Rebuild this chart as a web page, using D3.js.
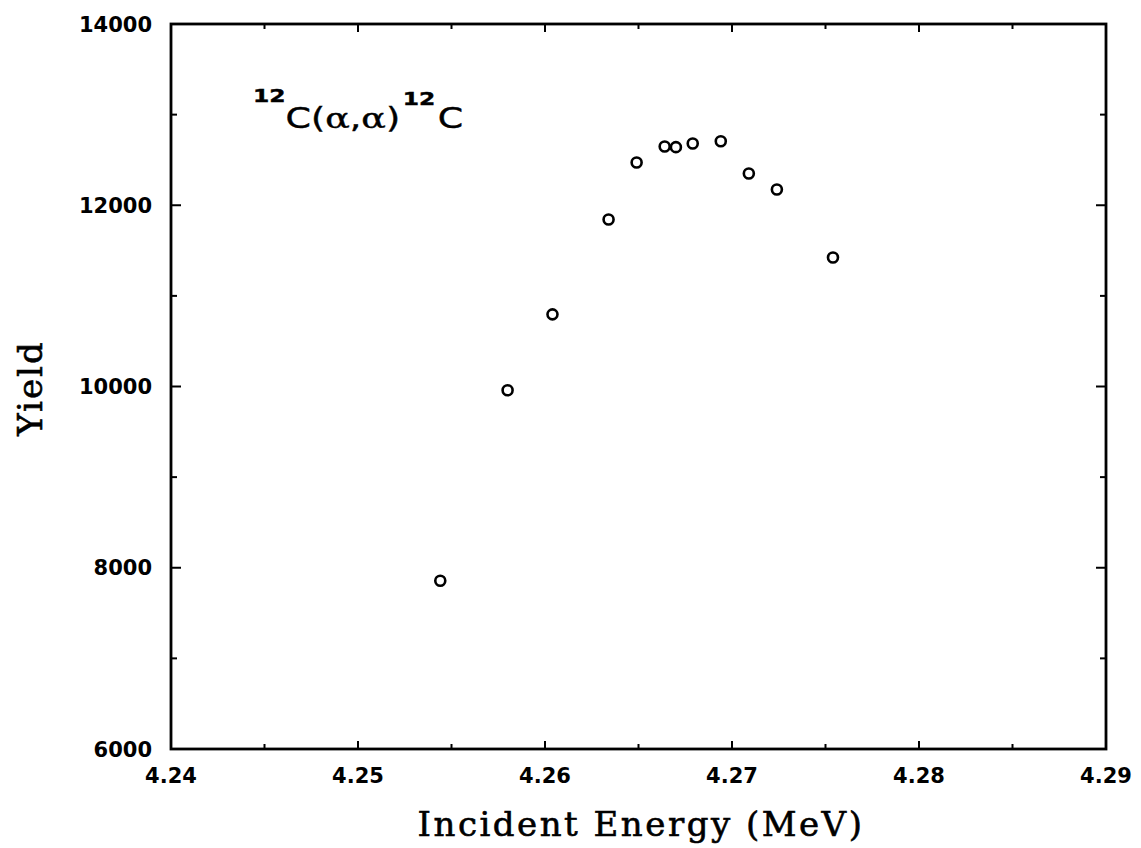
<!DOCTYPE html>
<html>
<head>
<meta charset="utf-8">
<script src="https://cdn.jsdelivr.net/npm/d3@7"></script>
<style>
  html, body { margin: 0; padding: 0; background: #fff; }
  svg { display: block; }
</style>
</head>
<body>
<svg id="chart" width="1141" height="848"></svg>
<script>
// Measured yield of 12C(α,α)12C elastic scattering vs incident energy
const energy = [4.2544, 4.2580, 4.2604, 4.2634, 4.2649, 4.2664, 4.2670, 4.2679, 4.2694, 4.2709, 4.2724, 4.2754];
const yieldCounts = [7856, 9958, 10796, 11843, 12472, 12648, 12641, 12681, 12707, 12351, 12174, 11424];

const xMajorTicks = [4.24, 4.25, 4.26, 4.27, 4.28, 4.29];
const xTickLabels = ["4.24", "4.25", "4.26", "4.27", "4.28", "4.29"];
const xMinorTicks = [4.245, 4.255, 4.265, 4.275, 4.285];
const yMajorTicks = [6000, 8000, 10000, 12000, 14000];
const yTickLabels = ["6000", "8000", "10000", "12000", "14000"];
const yMinorTicks = [7000, 9000, 11000, 13000];

const svg = d3.select("#chart");
const plotLeft = 171, plotRight = 1106, plotTop = 24, plotBottom = 749;

const x = d3.scaleLinear().domain([4.24, 4.29]).range([plotLeft, plotRight]);
const y = d3.scaleLinear().domain([6000, 14000]).range([plotBottom, plotTop]);

const ink = "#000";
const tickFont = "'DejaVu Sans', sans-serif";
const serif = "'DejaVu Serif', serif";

// Frame
svg.append("rect")
  .attr("x", plotLeft).attr("y", plotTop)
  .attr("width", plotRight - plotLeft).attr("height", plotBottom - plotTop)
  .attr("fill", "none").attr("stroke", ink).attr("stroke-width", 2.8);

// Inward ticks on all four sides
function xTicks(values, len) {
  const g = svg.append("g").attr("stroke", ink).attr("stroke-width", 2);
  values.forEach(v => {
    g.append("line").attr("x1", x(v)).attr("x2", x(v)).attr("y1", plotBottom).attr("y2", plotBottom - len);
    g.append("line").attr("x1", x(v)).attr("x2", x(v)).attr("y1", plotTop).attr("y2", plotTop + len);
  });
}
function yTicks(values, len) {
  const g = svg.append("g").attr("stroke", ink).attr("stroke-width", 2);
  values.forEach(v => {
    g.append("line").attr("x1", plotLeft).attr("x2", plotLeft + len).attr("y1", y(v)).attr("y2", y(v));
    g.append("line").attr("x1", plotRight).attr("x2", plotRight - len).attr("y1", y(v)).attr("y2", y(v));
  });
}
xTicks(xMajorTicks.slice(1, -1), 8);
xTicks(xMinorTicks, 5);
yTicks(yMajorTicks.slice(1, -1), 10);
yTicks(yMinorTicks, 6);

// Tick labels
svg.append("g").selectAll("text")
  .data(xMajorTicks)
  .join("text")
  .attr("x", d => x(d))
  .attr("y", 783)
  .attr("text-anchor", "middle")
  .attr("font-family", tickFont)
  .attr("font-weight", "bold")
  .attr("font-size", 21)
  .attr("fill", ink)
  .text((d, i) => xTickLabels[i]);

svg.append("g").selectAll("text")
  .data(yMajorTicks)
  .join("text")
  .attr("x", 152)
  .attr("y", d => y(d))
  .attr("dy", "0.36em")
  .attr("text-anchor", "end")
  .attr("font-family", tickFont)
  .attr("font-weight", "bold")
  .attr("font-size", 21)
  .attr("fill", ink)
  .text((d, i) => yTickLabels[i]);

// Axis titles (slightly heavier strokes)
svg.append("text")
  .attr("x", 641).attr("y", 836)
  .attr("text-anchor", "middle")
  .attr("font-family", serif)
  .attr("font-size", 34)
  .attr("letter-spacing", 2.5)
  .attr("fill", ink)
  .attr("stroke", ink).attr("stroke-width", 0.6)
  .text("Incident Energy (MeV)");

svg.append("text")
  .attr("transform", "translate(42,388) rotate(-90)")
  .attr("text-anchor", "middle")
  .attr("font-family", serif)
  .attr("font-size", 34)
  .attr("letter-spacing", 2)
  .attr("fill", ink)
  .attr("stroke", ink).attr("stroke-width", 0.6)
  .text("Yield");

// Reaction label, drawn in a horizontally widened group
const label = svg.append("g")
  .attr("transform", "translate(253,0) scale(1.3,1)")
  .append("text")
  .attr("x", 0).attr("y", 128)
  .attr("font-family", tickFont)
  .attr("fill", ink)
  .attr("stroke", ink).attr("stroke-width", 0.4);
label.append("tspan").attr("font-size", 18).attr("font-weight", "bold").attr("dy", -26).text("12");
label.append("tspan").attr("font-size", 28).attr("dy", 26).text("C(");
label.append("tspan").attr("font-size", 28).attr("font-family", serif).text("α");
label.append("tspan").attr("font-size", 28).text(",");
label.append("tspan").attr("font-size", 28).attr("font-family", serif).text("α");
label.append("tspan").attr("font-size", 28).text(")");
label.append("tspan").attr("font-size", 18).attr("font-weight", "bold").attr("dx", 2).attr("dy", -23).text("12");
label.append("tspan").attr("font-size", 28).attr("dx", 2).attr("dy", 23).text("C");

// Data points
svg.append("g").selectAll("circle")
  .data(energy.map((e, i) => [e, yieldCounts[i]]))
  .join("circle")
  .attr("cx", d => x(d[0]))
  .attr("cy", d => y(d[1]))
  .attr("r", 5)
  .attr("fill", "none")
  .attr("stroke", ink)
  .attr("stroke-width", 2.6);
</script>
</body>
</html>
